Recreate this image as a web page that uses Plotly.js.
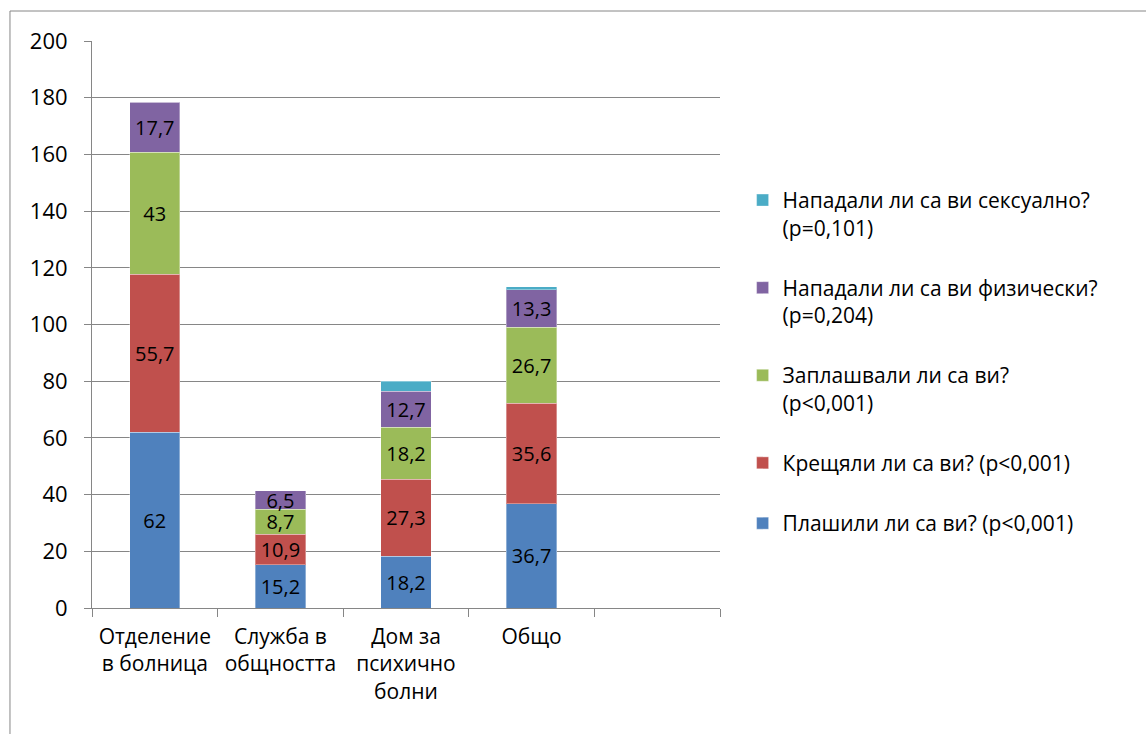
<!DOCTYPE html>
<html>
<head>
<meta charset="utf-8">
<script src="https://cdn.plot.ly/plotly-3.0.1.min.js"></script>
<style>html,body{margin:0;padding:0;background:#fff}#chart{width:1146px;height:734px}</style>
</head>
<body>
<div id="chart"></div>
<script>
const categories = ["Отделение<br>в болница", "Служба в<br>общността", "Дом за<br>психично<br>болни", "Общо"];
const seriesNames = [
  "Плашили ли са ви? (p<0,001)",
  "Крещяли ли са ви? (p<0,001)",
  "Заплашвали ли са ви?<br>(p<0,001)",
  "Нападали ли са ви физически?<br>(p=0,204)",
  "Нападали ли са ви сексуално?<br>(p=0,101)"
];
const frightened = [62, 15.2, 18.2, 36.7];
const shouted = [55.7, 10.9, 27.3, 35.6];
const threatened = [43, 8.7, 18.2, 26.7];
const physical = [17.7, 6.5, 12.7, 13.3];
const sexual = [0, 0, 3.6, 1.1];
const yTicks = [0, 20, 40, 60, 80, 100, 120, 140, 160, 180, 200];

const colors = ["#4F81BD", "#C0504D", "#9BBB59", "#8064A2", "#4BACC6"];
const allSeries = [frightened, shouted, threatened, physical, sexual];
const xPos = categories.map((c, i) => i);
const fmt = v => String(v).replace('.', ',');
const FONT = "Open Sans, sans-serif";

const traces = allSeries.map((vals, k) => ({
  type: 'bar',
  x: xPos,
  y: vals,
  name: seriesNames[k],
  legendgroup: 'g' + k,
  legendrank: 1000 - k,
  marker: {color: colors[k], line: {color: 'rgba(255,255,255,0.35)', width: 1}},
  text: k < 4 ? vals.map(fmt) : vals.map(() => ''),
  textposition: k < 4 ? 'inside' : 'none',
  insidetextanchor: 'middle',
  textangle: 0,
  constraintext: 'none',
  textfont: {family: FONT, size: 20, color: '#000'},
  width: 0.4,
  hoverinfo: 'skip',
  xaxis: 'x',
  yaxis: 'y'
}));

// dummy trace to activate second x axis used for category labels
traces.push({type: 'scatter', x: [0], y: [0], xaxis: 'x2', yaxis: 'y', mode: 'none', showlegend: false, hoverinfo: 'skip'});

const boundaries = [];
for (let i = 0; i <= 5; i++) boundaries.push(i - 0.5);

const layout = {
  width: 1146, height: 734,
  barmode: 'stack',
  paper_bgcolor: '#fff', plot_bgcolor: '#fff',
  margin: {l: 92, r: 426, t: 41, b: 126},
  font: {family: FONT, size: 22, color: '#000'},
  showlegend: true,
  legend: {
    x: 1.036, y: 0.755, xanchor: 'left', yanchor: 'top',
    traceorder: 'grouped',
    valign: 'top',
    font: {family: FONT, size: 21, color: '#000'},
    tracegroupgap: 30,
    itemwidth: 30
  },
  xaxis: {
    type: 'linear', range: [-0.5, 4.5],
    tickvals: boundaries, ticktext: boundaries.map(() => ''),
    ticks: 'outside', ticklen: 8, tickcolor: '#868686', tickwidth: 1,
    showline: true, linecolor: '#868686', linewidth: 1,
    showgrid: false, zeroline: false, fixedrange: true
  },
  xaxis2: {
    type: 'linear', range: [-0.5, 4.5], overlaying: 'x', side: 'bottom', anchor: 'y',
    tickvals: xPos, ticktext: categories,
    ticks: '', showline: false, showgrid: false, zeroline: false,
    tickfont: {family: FONT, size: 21, color: '#000'},
    ticklabelstandoff: 14
  },
  yaxis: {
    range: [0, 200], tickvals: yTicks, ticktext: yTicks.map(String),
    ticks: 'outside', ticklen: 7, tickcolor: '#868686',
    showline: true, linecolor: '#868686', linewidth: 1,
    showgrid: true, gridcolor: '#868686', gridwidth: 1,
    zeroline: false,
    tickfont: {family: FONT, size: 22, color: '#000'},
    ticklabelstandoff: 12
  },
  shapes: [{
    type: 'rect', xref: 'paper', yref: 'paper',
    x0: -0.1306, x1: 3, y0: -1, y1: 1.0529,
    line: {color: '#868686', width: 1}, fillcolor: 'rgba(0,0,0,0)', layer: 'below'
  }]
};

Plotly.newPlot('chart', traces, layout, {displayModeBar: false, staticPlot: true});
</script>
</body>
</html>
